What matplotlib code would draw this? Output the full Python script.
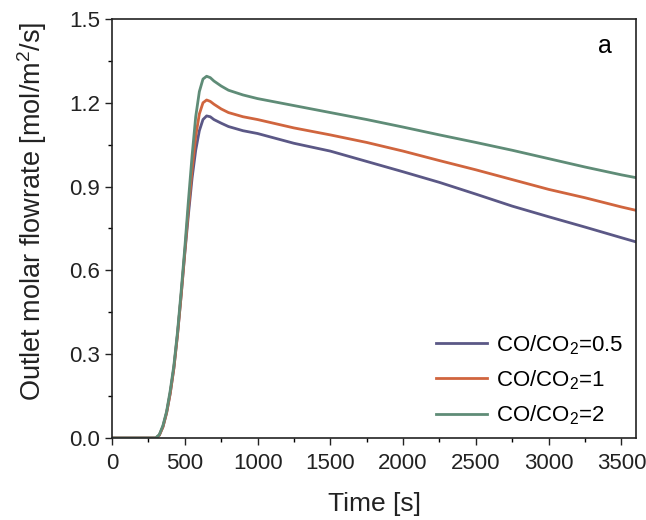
import matplotlib
matplotlib.use("Agg")
import matplotlib.pyplot as plt
from matplotlib.ticker import MultipleLocator, FormatStrFormatter

plt.rcParams['font.family'] = ['Liberation Sans', 'DejaVu Sans']
plt.rcParams['mathtext.fontset'] = 'custom'
plt.rcParams['mathtext.rm'] = 'Liberation Sans'
plt.rcParams['mathtext.it'] = 'Liberation Sans:italic'

# time axis [s]
time = [0, 250, 300, 325, 350, 375, 400, 425, 450, 475, 500, 525, 550, 575,
        600, 625, 650, 675, 700, 750, 800, 900, 1000, 1250, 1500, 1750, 2000,
        2250, 2500, 2750, 3000, 3250, 3500, 3600]

# outlet molar flowrate [mol/m2/s]
ratio_05 = [0, 0, 0, 0.01, 0.04, 0.09, 0.16, 0.25, 0.37, 0.51, 0.66, 0.80, 0.93, 1.03,
            1.10, 1.14, 1.153, 1.15, 1.14, 1.127, 1.115, 1.10, 1.09, 1.055, 1.027, 0.99, 0.953,
            0.915, 0.873, 0.83, 0.792, 0.755, 0.717, 0.702]
ratio_1 = [0, 0, 0, 0.01, 0.04, 0.09, 0.16, 0.25, 0.37, 0.51, 0.665, 0.82, 0.96, 1.08,
           1.16, 1.20, 1.21, 1.205, 1.195, 1.178, 1.165, 1.15, 1.14, 1.11, 1.085, 1.058, 1.027,
           0.993, 0.96, 0.925, 0.89, 0.86, 0.827, 0.815]
ratio_2 = [0, 0, 0, 0.012, 0.045, 0.095, 0.17, 0.26, 0.38, 0.525, 0.68, 0.85, 1.01, 1.15,
           1.24, 1.285, 1.295, 1.29, 1.278, 1.26, 1.245, 1.228, 1.215, 1.19, 1.165, 1.14, 1.113,
           1.085, 1.058, 1.03, 1.0, 0.97, 0.942, 0.932]

labels = ['CO/CO$_2$=0.5', 'CO/CO$_2$=1', 'CO/CO$_2$=2']
colors = ['#5b5886', '#d0653e', '#5f8c77']

fig = plt.figure(figsize=(6.46, 5.2), dpi=100)
ax = fig.add_axes([0.1734, 0.1577, 0.8111, 0.8058])

for series, lab, col in zip([ratio_05, ratio_1, ratio_2], labels, colors):
    ax.plot(time, series, color=col, lw=2.0, label=lab)

ax.set_xlim(0, 3600)
ax.set_ylim(0, 1.5)
ax.xaxis.set_major_locator(MultipleLocator(500))
ax.xaxis.set_minor_locator(MultipleLocator(250))
ax.yaxis.set_major_locator(MultipleLocator(0.3))
ax.yaxis.set_minor_locator(MultipleLocator(0.15))
ax.yaxis.set_major_formatter(FormatStrFormatter('%.1f'))
ax.tick_params(which='major', direction='out', length=5, width=1, labelsize=16,
               colors='#222222')
ax.tick_params(axis='x', which='major', pad=6)
ax.tick_params(which='minor', direction='out', length=3, width=1)
for s in ax.spines.values():
    s.set_linewidth(1.2)
    s.set_color('#222222')

ax.set_xlabel('Time [s]', fontsize=19, color='#222222', labelpad=13)
ax.set_ylabel('Outlet molar flowrate [mol/m$^2$/s]', fontsize=19.5, color='#222222', va='center')
ax.yaxis.set_label_coords(-0.153, 0.54)

ax.text(0.94, 0.935, 'a', transform=ax.transAxes, fontsize=18, ha='center', va='center')

ax.legend(loc='lower right', frameon=False, fontsize=16, handlelength=2.3,
          labelspacing=0.52, bbox_to_anchor=(0.993, 0.005), borderaxespad=0.0,
          handletextpad=0.4)

fig.savefig('out.png', dpi=100)
